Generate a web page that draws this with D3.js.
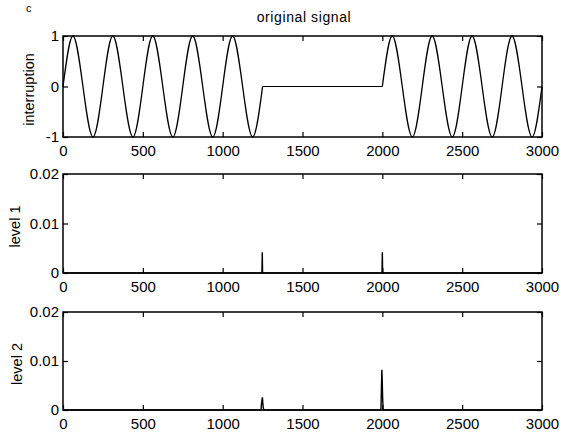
<!DOCTYPE html>
<html>
<head>
<meta charset="utf-8">
<script src="https://cdn.jsdelivr.net/npm/d3@7"></script>
<style>
  body { margin: 0; background: #fff; }
  svg { display: block; }
</style>
</head>
<body>
<div id="chart"></div>
<script>
// tick values
const sampleTicks = [0, 500, 1000, 1500, 2000, 2500, 3000];
const signalTicks = [-1, 0, 1];
const levelTicks = [0, 0.01, 0.02];

// original signal: zero crossings, peaks and troughs
const signalBefore = [
  [0, 0], [62, 1], [125, 0], [188, -1], [250, 0],
  [312, 1], [375, 0], [438, -1], [500, 0],
  [562, 1], [625, 0], [688, -1], [750, 0],
  [812, 1], [875, 0], [938, -1], [1000, 0],
  [1062, 1], [1125, 0], [1188, -1], [1250, 0]
];
// the interruption, flat at 0
const signalGap = [[1250, 0], [2000, 0]];
const signalAfter = [
  [2000, 0], [2062, 1], [2125, 0], [2188, -1], [2250, 0],
  [2312, 1], [2375, 0], [2438, -1], [2500, 0],
  [2562, 1], [2625, 0], [2688, -1], [2750, 0],
  [2812, 1], [2875, 0], [2938, -1], [3000, 0]
];

// detail coefficients, zero except around the two edges of the gap
const level1 = [
  [0, 0], [1246, 0], [1248, 0.0042], [1250, 0],
  [1998, 0], [2000, 0.0042], [2002, 0], [3000, 0]
];
const level2 = [
  [0, 0], [1240, 0], [1243, 0.0012], [1246, 0.002], [1249, 0.0026],
  [1251, 0.0016], [1254, 0.0006], [1257, 0],
  [1991, 0], [1994, 0.004], [1997, 0.0082], [1999, 0.0065],
  [2002, 0.0025], [2005, 0],
  [3000, 0]
];

const W = 562, H = 434;
const left = 63, right = 542;
const font = "'Liberation Sans', Arial, Helvetica, sans-serif";

const svg = d3.select("#chart")
  .append("svg")
  .attr("width", W)
  .attr("height", H)
  .style("background", "#fff");

const x = d3.scaleLinear().domain([0, 3000]).range([left, right]);

// stray scan mark in the top left corner
svg.append("text")
  .attr("x", 26).attr("y", 12)
  .attr("font-family", font).attr("font-size", 11)
  .text("c");

function drawPanel(top, bottom, yDomain, yTicks, fmt, label, labelX) {
  const y = d3.scaleLinear().domain(yDomain).range([bottom, top]);

  const styleAxis = g => {
    g.select(".domain").remove();
    g.attr("font-family", font).attr("font-size", 15);
    g.selectAll("line").attr("stroke", "#000").attr("stroke-width", 1.2);
  };

  svg.append("g")
    .attr("transform", `translate(0,${bottom})`)
    .call(d3.axisBottom(x).tickValues(sampleTicks).tickSizeInner(-5)
      .tickSizeOuter(0).tickPadding(8).tickFormat(d3.format("d")))
    .call(styleAxis);

  svg.append("g")
    .attr("transform", `translate(0,${top})`)
    .call(d3.axisTop(x).tickValues(sampleTicks).tickSizeInner(-5)
      .tickSizeOuter(0).tickFormat(""))
    .call(styleAxis);

  svg.append("g")
    .attr("transform", `translate(${left},0)`)
    .call(d3.axisLeft(y).tickValues(yTicks).tickSizeInner(-5)
      .tickSizeOuter(0).tickPadding(4).tickFormat(fmt))
    .call(styleAxis);

  svg.append("g")
    .attr("transform", `translate(${right},0)`)
    .call(d3.axisRight(y).tickValues(yTicks).tickSizeInner(-5)
      .tickSizeOuter(0).tickFormat(""))
    .call(styleAxis);

  // frame
  svg.append("rect")
    .attr("x", left).attr("y", top)
    .attr("width", right - left).attr("height", bottom - top)
    .attr("fill", "none").attr("stroke", "#000").attr("stroke-width", 1.5);

  svg.append("text")
    .attr("transform", `translate(${labelX},${(top + bottom) / 2 + 3}) rotate(-90)`)
    .attr("text-anchor", "middle")
    .attr("font-family", font).attr("font-size", 14.5)
    .text(label);

  return y;
}

// top panel, original signal
const ySig = drawPanel(36, 137, [-1, 1], signalTicks, d => String(d), "interruption", 34);
const sineLine = d3.line().x(d => x(d[0])).y(d => ySig(d[1])).curve(d3.curveNatural);
const flatLine = d3.line().x(d => x(d[0])).y(d => ySig(d[1]));

[signalBefore, signalAfter].forEach(seg => {
  svg.append("path")
    .attr("d", sineLine(seg))
    .attr("fill", "none").attr("stroke", "#000").attr("stroke-width", 1.3);
});
svg.append("path")
  .attr("d", flatLine(signalGap))
  .attr("fill", "none").attr("stroke", "#000").attr("stroke-width", 1.2);

svg.append("text")
  .attr("x", 304).attr("y", 22)
  .attr("text-anchor", "middle")
  .attr("font-family", font).attr("font-size", 14)
  .attr("letter-spacing", 0.6)
  .text("original signal");

const levelFmt = d => d === 0 ? "0" : d.toFixed(2);

// middle panel, level 1
const yL1 = drawPanel(174, 273, [0, 0.02], levelTicks, levelFmt, "level 1", 20);
svg.append("path")
  .attr("d", d3.line().x(d => x(d[0])).y(d => yL1(d[1]))(level1))
  .attr("fill", "none").attr("stroke", "#000").attr("stroke-width", 1.4);

// bottom panel, level 2
const yL2 = drawPanel(312, 410, [0, 0.02], levelTicks, levelFmt, "level 2", 22);
svg.append("path")
  .attr("d", d3.line().x(d => x(d[0])).y(d => yL2(d[1]))(level2))
  .attr("fill", "none").attr("stroke", "#000").attr("stroke-width", 1.4);
</script>
</body>
</html>
